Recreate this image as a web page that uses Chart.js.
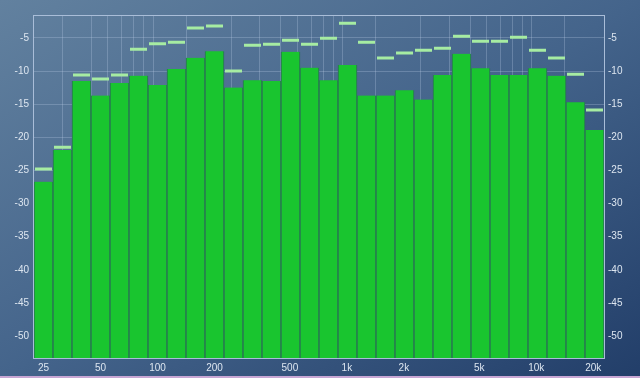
<!DOCTYPE html>
<html>
<head>
<meta charset="utf-8">
<script src="https://cdn.jsdelivr.net/npm/chart.js@4.4.1/dist/chart.umd.min.js"></script>
<style>
    html, body {
        margin: 0;
        padding: 0;
        overflow: hidden;
    }
    #wrap {
        position: relative;
        width: 640px;
        height: 378px;
        background: linear-gradient(to bottom right, #62819f 0%, #44648b 50%, #223e69 100%);
    }
    #wrap::after {
        content: '';
        position: absolute;
        left: 0;
        right: 0;
        bottom: 0;
        height: 2px;
        background: #c8a6d4;
    }
    canvas {
        display: block;
    }
</style>
</head>
<body>
<div id="wrap">
    <canvas id="spectrum" width="640" height="378"></canvas>
</div>
<script>
// 1/3 옥타브 밴드
const bands = ['25', '31.5', '40', '50', '63', '80', '100', '125', '160', '200',
    '250', '315', '400', '500', '630', '800', '1k', '1.25k', '1.6k', '2k',
    '2.5k', '3.15k', '4k', '5k', '6.3k', '8k', '10k', '12.5k', '16k', '20k'];

// 현재 레벨 (dB)
const levels = [-26.7, -21.9, -11.5, -13.7, -11.8, -10.7, -12.1, -9.7, -8.0, -7.0,
    -12.5, -11.4, -11.5, -7.1, -9.5, -11.4, -9.1, -13.7, -13.7, -12.9,
    -14.3, -10.6, -7.4, -9.6, -10.6, -10.6, -9.6, -10.7, -14.7, -18.9];

// 피크 홀드 (dB)
const peaks = [-24.8, -21.5, -10.6, -11.2, -10.6, -6.7, -5.9, -5.65, -3.5, -3.2,
    -10.0, -6.1, -5.95, -5.35, -5.95, -5.05, -2.8, -5.65, -8.05, -7.3,
    -6.85, -6.55, -4.75, -5.5, -5.5, -4.9, -6.85, -8.05, -10.5, -15.9];

// 축 눈금
const dbTicks = [-5, -10, -15, -20, -25, -30, -35, -40, -45, -50];
const freqTicks = [25, 50, 100, 200, 500, 1000, 2000, 5000, 10000, 20000];
const freqLabels = ['25', '50', '100', '200', '500', '1k', '2k', '5k', '10k', '20k'];
const freqGrid = [40, 60, 70, 80, 90, 300, 400, 600, 700, 800, 900,
    3000, 4000, 6000, 7000, 8000, 9000];

const dbMin = -53.3;
const dbMax = -1.7;

const textColor = '#dde6f0';
const gridColor = 'rgba(190, 210, 235, 0.28)';
const tickFont = { family: 'Liberation Sans', size: 10 };

// 첫 밴드 중심 = 25Hz, 밴드 간격 1/3 옥타브
const freqMin = 25 / Math.pow(2, 0.5 / 3);
const freqMax = 25 * Math.pow(2, (bands.length - 0.5) / 3);

// 플롯 테두리
const framePlugin = {
    id: 'frame',
    afterDatasetsDraw(chart) {
        const a = chart.chartArea;
        const ctx = chart.ctx;
        ctx.save();
        ctx.strokeStyle = '#a9bdd8';
        ctx.lineWidth = 1;
        ctx.strokeRect(a.left - 0.5, a.top - 0.5, a.right - a.left + 1, a.bottom - a.top + 1);
        ctx.restore();
    }
};

const ctx = document.getElementById('spectrum');
new Chart(ctx, {
    type: 'bar',
    data: {
        labels: bands,
        datasets: [{
            type: 'line',
            label: 'peak',
            data: peaks,
            xAxisID: 'x',
            yAxisID: 'y',
            showLine: false,
            pointStyle: 'line',
            pointRadius: 8.5,
            pointHoverRadius: 8.5,
            pointBorderWidth: 3,
            pointHoverBorderWidth: 3,
            borderColor: '#a6eca2',
            backgroundColor: '#a6eca2',
            order: 0
        }, {
            label: 'level',
            data: levels,
            xAxisID: 'x',
            yAxisID: 'y',
            base: dbMin,
            backgroundColor: '#19c52f',
            borderColor: '#2a6c58',
            borderWidth: { left: 1, right: 1, top: 0, bottom: 0 },
            borderSkipped: false,
            barPercentage: 1,
            categoryPercentage: 1,
            order: 1
        }]
    },
    options: {
        responsive: false,
        animation: false,
        events: [],
        layout: {
            padding: { top: 16, left: 0, right: 0, bottom: 0 }
        },
        plugins: {
            legend: { display: false },
            tooltip: { enabled: false }
        },
        scales: {
            x: {
                type: 'category',
                display: false,
                offset: true
            },
            freq: {
                type: 'logarithmic',
                position: 'bottom',
                min: freqMin,
                max: freqMax,
                afterBuildTicks: function(axis) {
                    const all = freqTicks.concat(freqGrid).sort((a, b) => a - b);
                    axis.ticks = all.map(v => ({ value: v }));
                },
                afterFit: function(axis) {
                    axis.height = 20;
                },
                ticks: {
                    autoSkip: false,
                    maxRotation: 0,
                    padding: 4,
                    color: textColor,
                    font: tickFont,
                    callback: function(value) {
                        const i = freqTicks.indexOf(value);
                        return i >= 0 ? freqLabels[i] : '';
                    }
                },
                grid: {
                    color: gridColor,
                    drawTicks: false
                },
                border: { display: false }
            },
            y: {
                type: 'linear',
                position: 'left',
                min: dbMin,
                max: dbMax,
                afterBuildTicks: function(axis) {
                    axis.ticks = dbTicks.map(v => ({ value: v }));
                },
                afterFit: function(axis) {
                    axis.width = 34;
                },
                ticks: {
                    padding: 5,
                    color: textColor,
                    font: tickFont
                },
                grid: {
                    color: gridColor,
                    drawTicks: false
                },
                border: { display: false }
            },
            y2: {
                type: 'linear',
                position: 'right',
                min: dbMin,
                max: dbMax,
                afterBuildTicks: function(axis) {
                    axis.ticks = dbTicks.map(v => ({ value: v }));
                },
                afterFit: function(axis) {
                    axis.width = 36;
                },
                ticks: {
                    padding: 4,
                    color: textColor,
                    font: tickFont
                },
                grid: {
                    display: false,
                    drawTicks: false
                },
                border: { display: false }
            }
        }
    },
    plugins: [framePlugin]
});
</script>
</body>
</html>
